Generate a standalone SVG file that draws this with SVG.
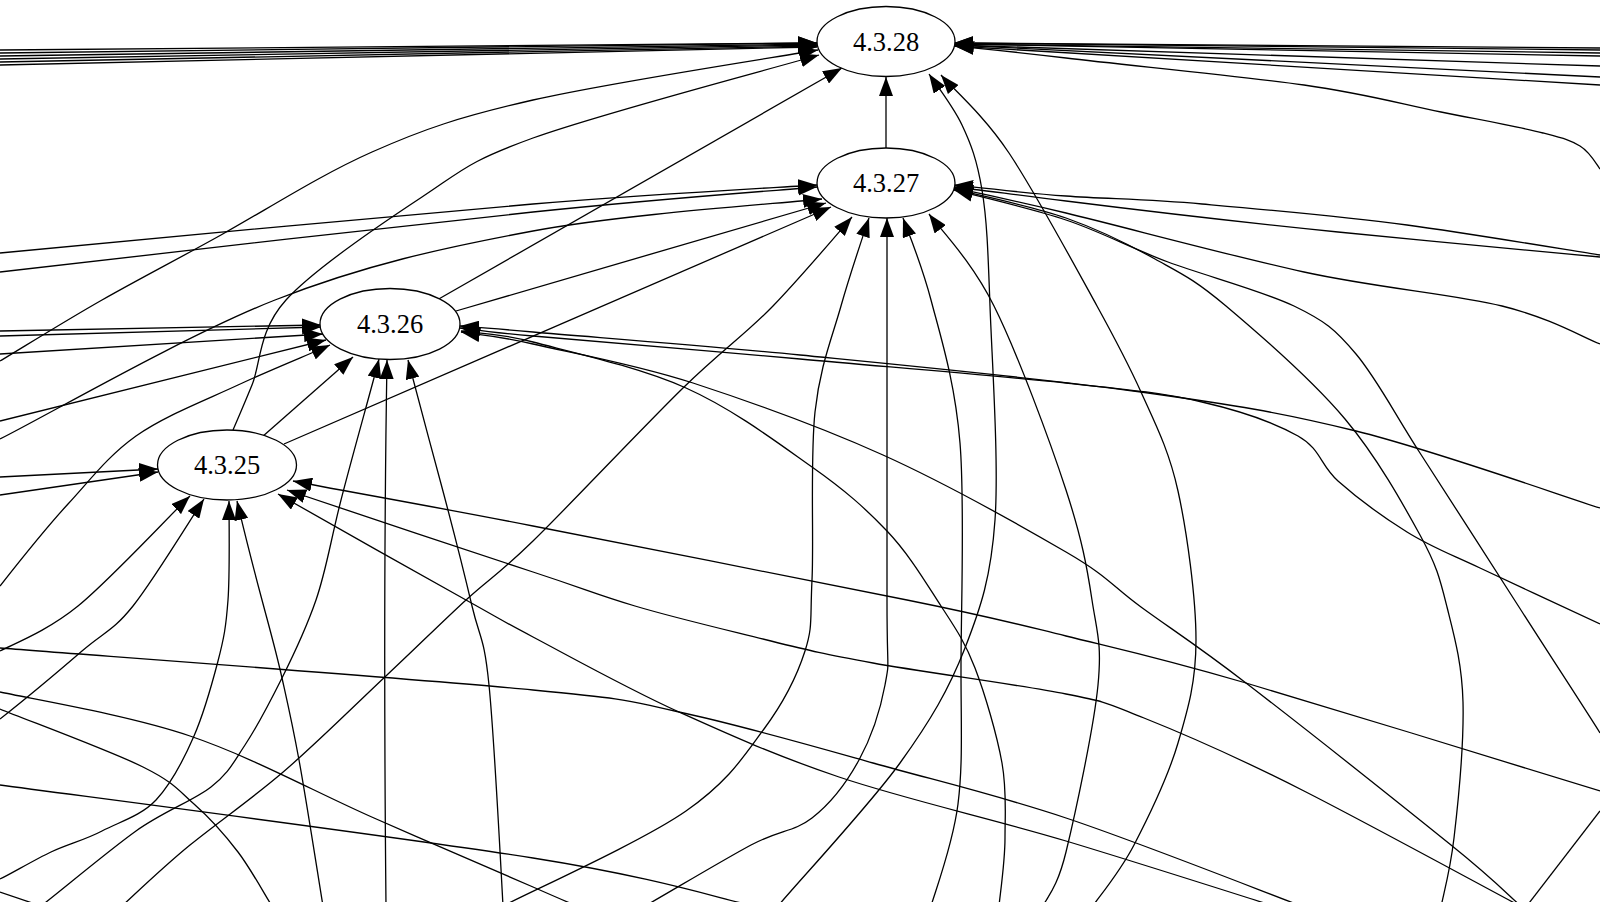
<svg xmlns="http://www.w3.org/2000/svg" width="1600" height="902" viewBox="0 0 1600 902">
<defs>
<marker id="a" markerUnits="userSpaceOnUse" markerWidth="20" markerHeight="14" refX="19" refY="7" orient="auto" viewBox="0 0 20 14">
<path d="M0,0 L19,7 L0,14 z" fill="#000"/>
</marker>
<style>
.e{fill:none;stroke:#000;stroke-width:1.3;marker-end:url(#a)}
.b{fill:none;stroke:#000;stroke-width:1.3}
.n ellipse{fill:#fff;stroke:#000;stroke-width:1.3}
.n text{font-family:"Liberation Serif","Times New Roman",serif;font-size:26.5px;text-anchor:middle;fill:#000}
</style>
</defs>
<rect width="1600" height="902" fill="#fff"/>
<g id="connectors">
<!-- into 4.3.28 -->
<path class="e" d="M0,50 L817,43"/>
<path class="e" d="M0,53 L817,43"/>
<path class="e" d="M0,56 L817,44"/>
<path class="e" d="M0,59 L817,45"/>
<path class="e" d="M0,62 L817,46"/>
<path class="e" d="M0,65 L817,47"/>
<path class="e" d="M0,361 C17,351 65,321 102,300 S176,260 221,235 S320,175 372,152 S459,117 533,100 S771,58 818,50"/>
<path class="e" d="M233,430 C236,423 243,407 252,385 S258,331 286,300 S381,224 422,197 S467,162 533,138 S771,69 819,55"/>
<path class="e" d="M437,300 L842,68"/>
<path class="e" d="M886,148 L886,77"/>
<path class="e" d="M778,906 C798,882 869,806 900,763 S949,689 965,648 S991,577 995,520 S992,361 990,306 S987,220 982,190 S971,144 962,125 S935,83 929,74"/>
<path class="e" d="M1092,907 C1099,897 1120,872 1134,845 S1168,777 1178,743 S1196,682 1196,640 S1187,532 1178,491 S1155,423 1141,392 S1119,346 1097,306 S1035,192 1009,153 S952,88 941,75"/>
<path class="e" d="M1600,48 L954,43"/>
<path class="e" d="M1600,50 L954,43"/>
<path class="e" d="M1600,53 L954,44"/>
<path class="e" d="M1600,56 L954,44"/>
<path class="e" d="M1600,66 L954,45"/>
<path class="e" d="M1600,77 L954,45"/>
<path class="e" d="M1600,85 L954,46"/>
<path class="e" d="M1600,169 C1597,165 1590,152 1580,146 S1566,139 1543,133 S1481,120 1441,112 S1367,94 1304,85 S1124,65 1066,58 S974,48 955,46"/>
<!-- into 4.3.27 -->
<path class="e" d="M0,253 C89,245 397,215 533,204 S770,188 817,185"/>
<path class="e" d="M0,272 C89,262 397,226 533,212 S770,191 817,187"/>
<path class="e" d="M0,439 C46,416 186,335 275,300 S442,248 533,231 S774,204 822,199"/>
<path class="e" d="M456,311 L826,203"/>
<path class="e" d="M284,444 L831,207"/>
<path class="e" d="M122,906 C133,896 163,867 190,845 S249,801 282,773 S356,704 387,675 S442,622 466,600 S497,576 533,541 S643,427 683,388 S745,335 773,306 S839,232 852,217"/>
<path class="e" d="M503,906 C534,890 643,841 686,811 S744,756 764,729 S797,676 805,651 S810,620 812,580 S810,458 815,412 S832,338 841,306 S864,233 869,218"/>
<path class="e" d="M645,906 C663,896 723,860 751,845 S794,832 812,818 S847,782 859,760 S880,712 885,685 S887,678 887,600 S887,282 887,218"/>
<path class="e" d="M931,906 C936,889 953,844 958,804 S961,728 961,668 S965,504 960,443 S941,338 931,300 S908,232 903,218"/>
<path class="e" d="M1043,906 C1047,897 1057,889 1066,852 S1094,727 1098,685 S1097,633 1092,600 S1082,539 1066,490 S1017,352 994,306 S940,229 929,214"/>
<path class="e" d="M1600,255 C1568,250 1473,234 1407,225 S1259,209 1202,204 S1107,199 1066,196 S973,187 954,185"/>
<path class="e" d="M1600,257 C1556,253 1427,241 1338,232 S1130,209 1066,201 S973,189 954,187"/>
<path class="e" d="M1600,344 C1584,338 1551,318 1502,306 S1377,288 1304,272 S1124,227 1066,213 S973,192 954,188"/>
<path class="e" d="M1441,907 C1443,896 1450,872 1454,838 S1464,741 1463,702 S1454,635 1447,607 S1437,566 1420,535 S1377,457 1345,419 S1258,333 1226,306 S1182,274 1155,259 S1100,230 1066,218 S973,194 954,189"/>
<path class="e" d="M1600,733 C1587,712 1549,654 1519,607 S1447,495 1420,453 S1377,379 1356,354 S1325,321 1294,306 S1206,276 1168,262 S1102,232 1066,220 S973,195 954,190"/>
<!-- into 4.3.26 -->
<path class="e" d="M0,331 L321,325"/>
<path class="e" d="M0,336 L321,327"/>
<path class="e" d="M0,354 L323,334"/>
<path class="e" d="M0,421 L326,340"/>
<path class="e" d="M0,586 C11,572 45,529 68,504 S108,456 136,436 S206,400 238,385 S315,352 330,345"/>
<path class="e" d="M262,437 L353,357"/>
<path class="e" d="M41,906 C57,894 108,851 136,831 S193,801 211,787 S233,763 245,745 S270,702 282,678 S306,629 316,600 S330,544 340,504 S373,383 379,359"/>
<path class="e" d="M386,906 Q383,600 387,360"/>
<path class="e" d="M503,906 C501,869 494,735 489,685 S480,640 472,606 S451,521 440,480 S413,380 408,360"/>
<path class="e" d="M1600,508 C1559,495 1433,450 1356,431 S1234,405 1141,392 S901,365 800,355 S590,337 533,332 S472,327 460,326"/>
<path class="e" d="M1600,624 C1580,615 1512,583 1480,568 S1431,547 1407,532 S1356,497 1338,481 S1321,449 1298,436 S1241,411 1202,402 S1133,390 1066,383 S889,367 800,359 S590,341 533,336 S472,329 460,328"/>
<path class="e" d="M999,906 C1000,895 1005,862 1005,838 S1007,791 1002,763 S985,694 975,668 S956,629 941,606 S909,554 887,531 S846,491 812,467 S733,409 686,388 S571,352 533,342 S473,333 461,331"/>
<path class="e" d="M1522,907 C1510,897 1497,882 1451,845 S1298,723 1246,683 S1171,629 1141,607 S1109,577 1066,552 S945,483 883,455 S751,402 693,383 S572,353 533,344 S473,334 461,332"/>
<!-- into 4.3.25 -->
<path class="e" d="M0,477 L158,469"/>
<path class="e" d="M0,495 L158,472"/>
<path class="e" d="M0,651 C13,644 46,632 78,606 S171,514 190,496"/>
<path class="e" d="M0,719 C14,708 60,670 82,651 S113,631 133,606 S192,517 204,499"/>
<path class="e" d="M0,879 C9,875 34,860 51,852 S85,840 102,831 S141,816 156,800 S184,759 194,736 S212,684 218,661 S226,627 228,600 S229,518 229,501"/>
<path class="e" d="M323,906 C319,882 306,798 299,760 S288,705 282,678 S270,630 262,600 S241,518 237,501"/>
<path class="e" d="M1600,791 C1541,773 1335,709 1246,683 S1123,650 1066,636 S996,618 907,600 S635,546 533,526 S333,489 293,481"/>
<path class="e" d="M1522,907 C1486,888 1367,823 1304,791 S1184,734 1144,718 S1111,703 1066,694 S922,672 873,663 S811,651 771,641 S675,618 635,606 S591,591 533,572 S328,504 287,490"/>
<path class="e" d="M1277,907 C1242,896 1139,863 1066,841 S904,799 839,777 S730,735 679,712 S569,656 533,637 S509,624 466,600 S309,512 278,494"/>
<!-- passing edges -->
<path class="b" d="M0,709 C24,719 111,751 143,767 S178,790 194,804 S225,835 238,852 S266,897 272,906"/>
<path class="b" d="M0,692 C32,699 128,715 190,736 S317,793 374,818 S499,872 533,887 S570,903 577,906"/>
<path class="b" d="M0,785 C89,797 407,838 533,858 S717,898 754,906"/>
<path class="b" d="M0,648 C89,655 420,679 533,690 S622,700 679,712 S809,745 873,763 S994,794 1066,818 S1264,892 1304,907"/>
<path class="b" d="M0,892 L41,906"/>
<path class="b" d="M1600,811 L1526,907"/>
</g>
<g id="node-4.3.28" class="n"><ellipse cx="886" cy="41.5" rx="69" ry="35"/><text x="886" y="50.5">4.3.28</text></g>
<g id="node-4.3.27" class="n"><ellipse cx="886" cy="183" rx="69" ry="35"/><text x="886" y="192">4.3.27</text></g>
<g id="node-4.3.26" class="n"><ellipse cx="390" cy="324" rx="70" ry="35.5"/><text x="390" y="333">4.3.26</text></g>
<g id="node-4.3.25" class="n"><ellipse cx="227" cy="465" rx="69.5" ry="35"/><text x="227" y="474">4.3.25</text></g>
</svg>
